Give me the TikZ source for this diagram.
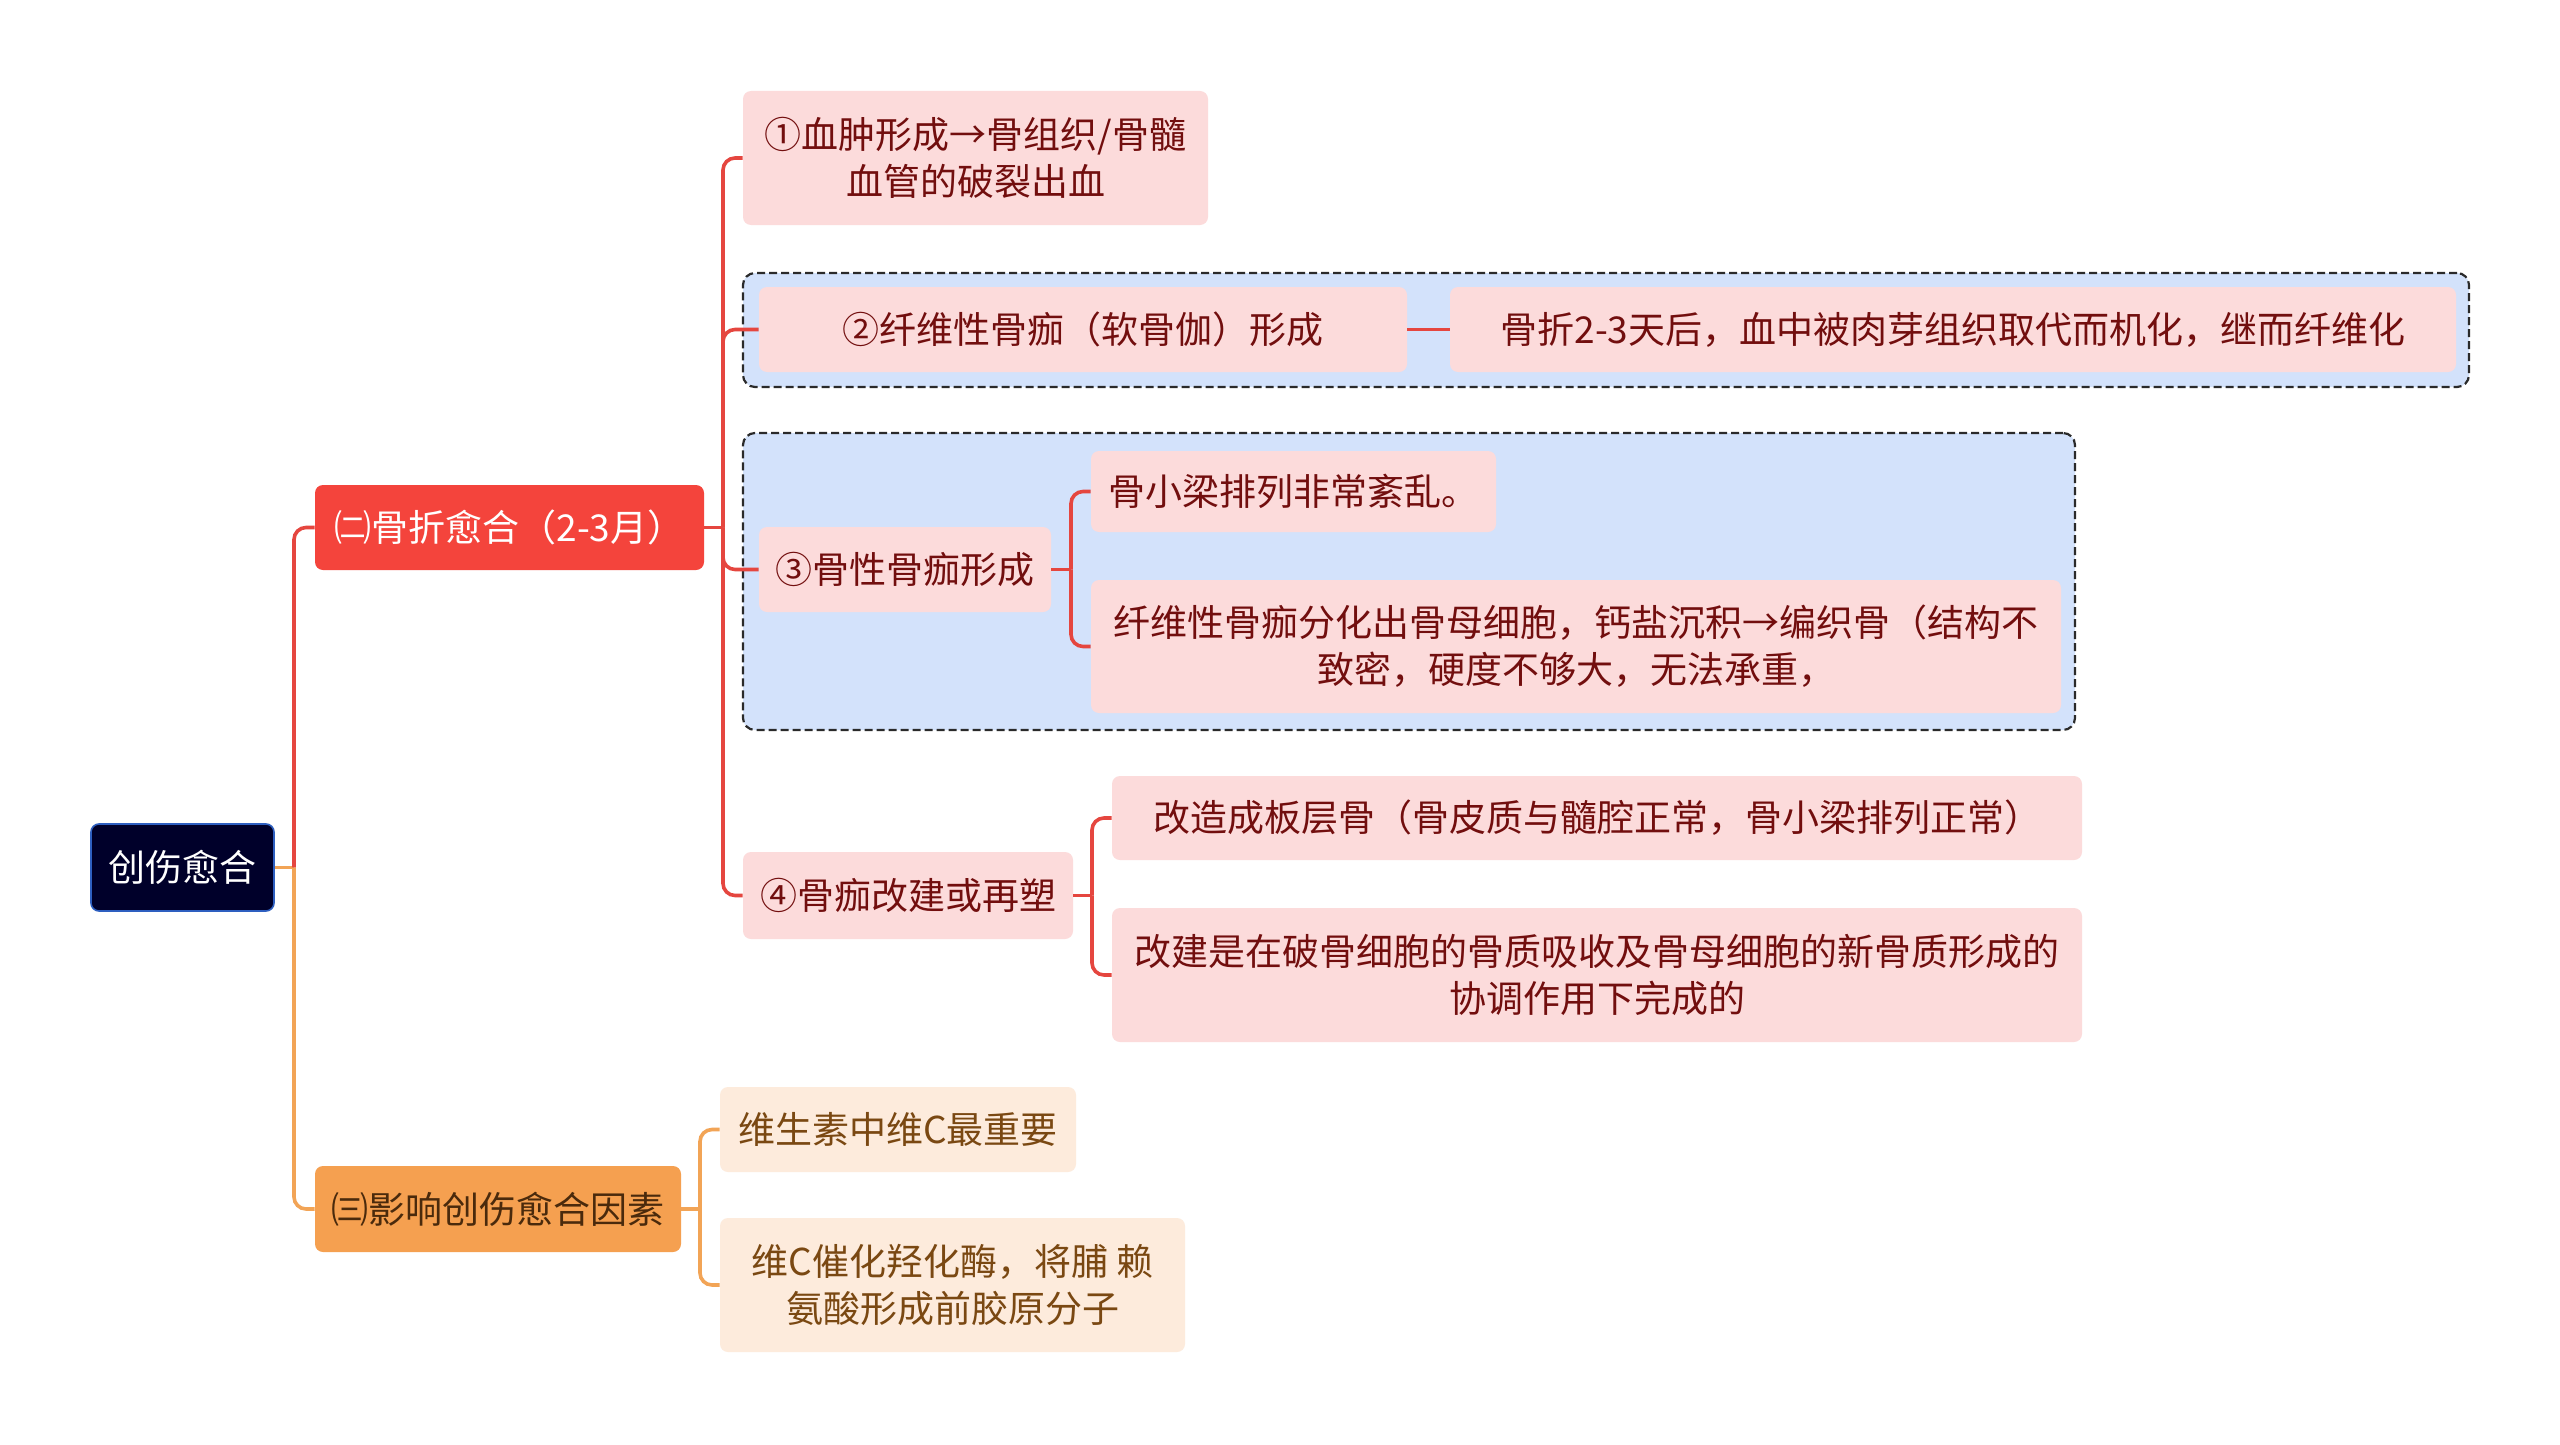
\documentclass[tikz,border=0pt]{standalone}
\usepackage{fontspec}
\setmainfont{Noto Sans CJK SC}
\definecolor{rootfill}{HTML}{00002A}
\definecolor{rootborder}{HTML}{2E5FC0}
\definecolor{redmain}{HTML}{F4443C}
\definecolor{redline}{HTML}{E5463F}
\definecolor{pinkfill}{HTML}{FCDBDB}
\definecolor{pinktext}{HTML}{720E0E}
\definecolor{groupfill}{HTML}{D3E2FB}
\definecolor{groupline}{HTML}{2A2A2A}
\definecolor{orangemain}{HTML}{F5A050}
\definecolor{orangeline}{HTML}{F2A456}
\definecolor{creamfill}{HTML}{FDEBDC}
\definecolor{creamtext}{HTML}{7A4812}
\definecolor{orangetext}{HTML}{4A2A0C}
\tikzset{
  box/.style={rounded corners=4pt, inner sep=0pt, align=center, font=\fontsize{18.5}{23.5}\selectfont},
  rootbox/.style={box, fill=rootfill, draw=rootborder, line width=0.8pt, text=white},
  redbox/.style={box, fill=redmain, text=white},
  orangebox/.style={box, fill=orangemain, text=orangetext},
  pinkbox/.style={box, fill=pinkfill, text=pinktext},
  creambox/.style={box, fill=creamfill, text=creamtext},
  groupbox/.style={draw=groupline, fill=groupfill, dash pattern=on 4pt off 2pt, line width=1.1pt, rounded corners=6pt, inner sep=0pt},
  redlink/.style={draw=redline, line width=1.8pt, rounded corners=6pt},
  orangelink/.style={draw=orangeline, line width=1.8pt, rounded corners=6pt},
}
\begin{document}
\begin{tikzpicture}[x=0.5pt,y=-0.5pt]
\useasboundingbox (0,0) rectangle (2560,1445);
\fill[white] (0,0) rectangle (2560,1445);

% dashed groups
\node[groupbox, minimum width=863pt, minimum height=57pt] (grp1) at (1606,330) {};
\node[groupbox, minimum width=666pt, minimum height=148.5pt] (grp2) at (1409,581.5) {};

% root and level 1
\node[rootbox, minimum width=91.5pt, minimum height=43.5pt] (root) at (182.5,867.5) {创伤愈合};
\node[redbox, minimum width=194.5pt, minimum height=42.5pt] (la) at (509.5,527.5) {㈡骨折愈合（2-3月）};
\node[orangebox, minimum width=183pt, minimum height=43pt] (lb) at (498,1209) {㈢影响创伤愈合因素};

% red branch children
\node[pinkbox, minimum width=232.5pt, minimum height=67pt] (c1) at (975.5,158) {①血肿形成→骨组织/骨髓\\血管的破裂出血};
\node[pinkbox, minimum width=324pt, minimum height=42.5pt] (c2) at (1083,329.5) {②纤维性骨痂（软骨伽）形成};
\node[pinkbox, minimum width=503pt, minimum height=42.5pt] (c2r) at (1953,329.5) {骨折2-3天后，血中被肉芽组织取代而机化，继而纤维化};
\node[pinkbox, minimum width=146pt, minimum height=42.5pt] (c3) at (905,569.5) {③骨性骨痂形成};
\node[pinkbox, minimum width=202.5pt, minimum height=40.5pt] (c3a) at (1293.5,491.5) {骨小梁排列非常紊乱。};
\node[pinkbox, minimum width=485pt, minimum height=66.5pt] (c3b) at (1576,646.5) {纤维性骨痂分化出骨母细胞，钙盐沉积→编织骨（结构不\\致密，硬度不够大，无法承重，};
\node[pinkbox, minimum width=165pt, minimum height=43.5pt] (c4) at (908,895.5) {④骨痂改建或再塑};
\node[pinkbox, minimum width=485pt, minimum height=42pt] (c4a) at (1597,818) {改造成板层骨（骨皮质与髓腔正常，骨小梁排列正常）};
\node[pinkbox, minimum width=485pt, minimum height=67pt] (c4b) at (1597,975) {改建是在破骨细胞的骨质吸收及骨母细胞的新骨质形成的\\协调作用下完成的};

% orange branch children
\node[creambox, minimum width=178pt, minimum height=42.5pt] (o1) at (898,1129.5) {维生素中维C最重要};
\node[creambox, minimum width=232.5pt, minimum height=67pt] (o2) at (952.5,1285) {维C催化羟化酶，将脯 赖\\氨酸形成前胶原分子};

% junction coordinates
\coordinate (rj) at (294,867.5);
\coordinate (aj) at (723,527.5);
\coordinate (bj) at (700,1209);
\coordinate (c3j) at (1071,569.5);
\coordinate (c4j) at (1092,895.5);

% connectors
\draw[orangelink] (root.east) -- (rj);
\draw[redlink] (rj) |- (la.west);
\draw[orangelink] (rj) |- (lb.west);

\draw[redlink] (la.east) -- (aj);
\draw[redlink] (aj) |- (c1.west);
\draw[redlink] (aj) |- (c2.west);
\draw[redlink] (aj) |- (c3.west);
\draw[redlink] (aj) |- (c4.west);

\draw[redlink] (c2.east) -- (c2r.west);

\draw[redlink] (c3.east) -- (c3j);
\draw[redlink] (c3j) |- (c3a.west);
\draw[redlink] (c3j) |- (c3b.west);

\draw[redlink] (c4.east) -- (c4j);
\draw[redlink] (c4j) |- (c4a.west);
\draw[redlink] (c4j) |- (c4b.west);

\draw[orangelink] (lb.east) -- (bj);
\draw[orangelink] (bj) |- (o1.west);
\draw[orangelink] (bj) |- (o2.west);
\end{tikzpicture}
\end{document}
